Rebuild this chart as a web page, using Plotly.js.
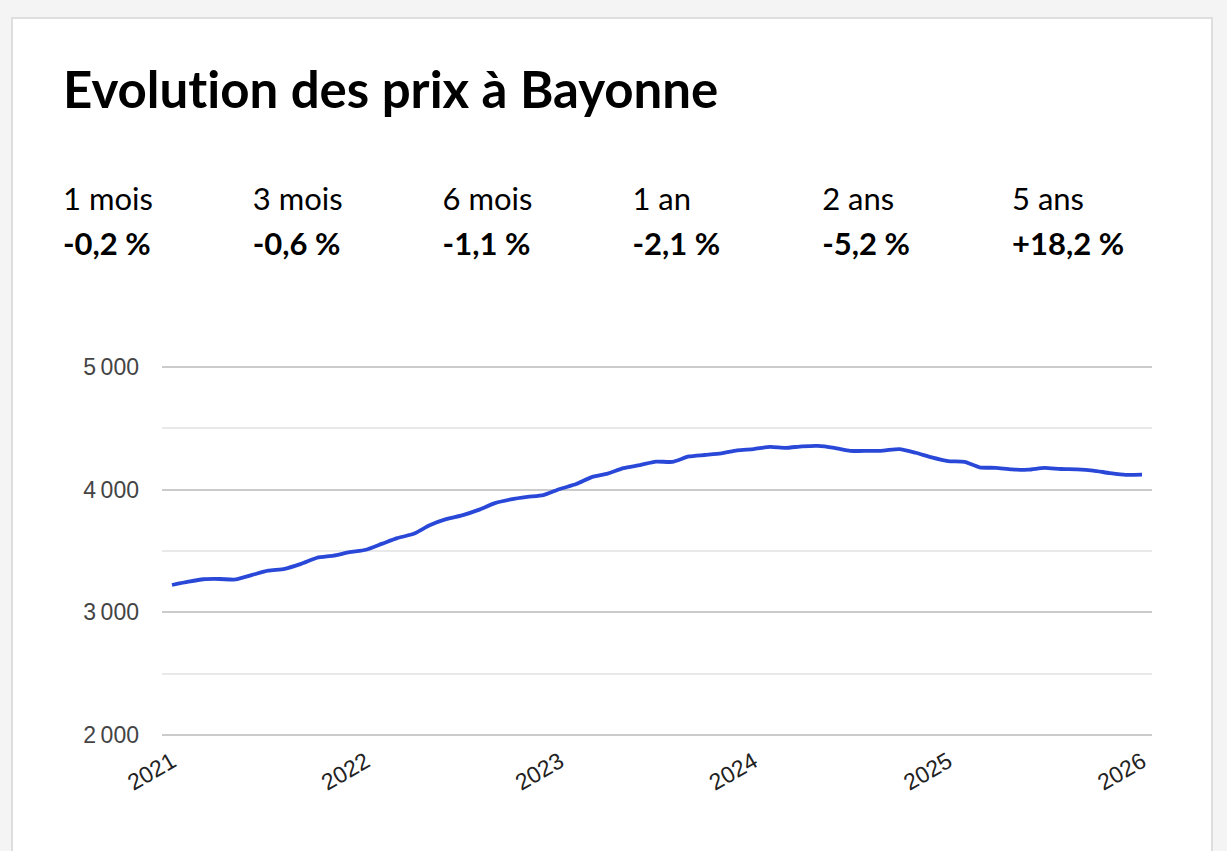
<!DOCTYPE html>
<html>
<head>
<meta charset="utf-8">
<script src="https://cdn.plot.ly/plotly-3.0.1.min.js"></script>
<style>
  html, body { margin: 0; padding: 0; background: #f4f4f4; width: 1227px; height: 851px; overflow: hidden; }
  .card { position: absolute; left: 11px; top: 17px; width: 1198px; height: 900px; background: #fff; border: 2px solid #dedede; }
  .txt { position: absolute; font-family: Lato, "Open Sans", sans-serif; color: #000; line-height: 1; white-space: nowrap; font-variant-ligatures: none; font-feature-settings: "liga" 0; }
  h1.txt { margin: 0; left: 63px; top: 63px; font-size: 51px; font-weight: 700; }
  .lbl { font-size: 31px; font-weight: 400; top: 183px; }
  .val { font-size: 31px; font-weight: 700; top: 228px; }
  #plot { position: absolute; left: 0; top: 0; width: 1227px; height: 851px; }
</style>
</head>
<body>
<div class="card"></div>
<h1 class="txt">Evolution des prix à Bayonne</h1>
<div id="stats"></div>
<div id="plot"></div>
<script>
// periods shown above the chart
const periodLabels = ["1 mois", "3 mois", "6 mois", "1 an", "2 ans", "5 ans"];
const periodChanges = ["-0,2 %", "-0,6 %", "-1,1 %", "-2,1 %", "-5,2 %", "+18,2 %"];

// monthly price per m², Jan 2021 -> Jan 2026
const months = [
  "2021-01-01", "2021-02-01", "2021-03-01", "2021-04-01", "2021-05-01", "2021-06-01",
  "2021-07-01", "2021-08-01", "2021-09-01", "2021-10-01", "2021-11-01", "2021-12-01",
  "2022-01-01", "2022-02-01", "2022-03-01", "2022-04-01", "2022-05-01", "2022-06-01",
  "2022-07-01", "2022-08-01", "2022-09-01", "2022-10-01", "2022-11-01", "2022-12-01",
  "2023-01-01", "2023-02-01", "2023-03-01", "2023-04-01", "2023-05-01", "2023-06-01",
  "2023-07-01", "2023-08-01", "2023-09-01", "2023-10-01", "2023-11-01", "2023-12-01",
  "2024-01-01", "2024-02-01", "2024-03-01", "2024-04-01", "2024-05-01", "2024-06-01",
  "2024-07-01", "2024-08-01", "2024-09-01", "2024-10-01", "2024-11-01", "2024-12-01",
  "2025-01-01", "2025-02-01", "2025-03-01", "2025-04-01", "2025-05-01", "2025-06-01",
  "2025-07-01", "2025-08-01", "2025-09-01", "2025-10-01", "2025-11-01", "2025-12-01",
  "2026-01-01",
];
const prices = [
  3223, 3250, 3270, 3272, 3268, 3305, 3340, 3355, 3395, 3445, 3462, 3490,
  3510, 3560, 3605, 3640, 3710, 3760, 3790, 3835, 3890, 3920, 3940, 3955,
  4005, 4045, 4100, 4130, 4175, 4200, 4228, 4226, 4270, 4282, 4295, 4320,
  4330, 4348, 4340, 4352, 4356, 4340, 4316, 4315, 4318, 4330, 4300, 4262,
  4232, 4226, 4182, 4177, 4165, 4162, 4177, 4168, 4165, 4155, 4135, 4120,
  4122,
];

const yearTicks = ["2021-01-01", "2022-01-01", "2023-01-01", "2024-01-01", "2025-01-01", "2026-01-01"];
const yearLabels = ["2021", "2022", "2023", "2024", "2025", "2026"];

function renderStats() {
  const el = document.getElementById("stats");
  periodLabels.forEach((lbl, i) => {
    const x = 63 + i * 189.8;
    const a = document.createElement("div");
    a.className = "txt lbl";
    a.style.left = x + "px";
    a.textContent = lbl;
    const b = document.createElement("div");
    b.className = "txt val";
    b.style.left = x + "px";
    b.textContent = periodChanges[i];
    el.appendChild(a);
    el.appendChild(b);
  });
}

function renderPlot() {
  const trace = {
    type: "scatter",
    mode: "lines",
    x: months,
    y: prices,
    line: { color: "#2a48d8", width: 3.8, shape: "spline", smoothing: 0.6 },
    hoverinfo: "skip",
  };

  const layout = {
    paper_bgcolor: "rgba(0,0,0,0)",
    plot_bgcolor: "rgba(0,0,0,0)",
    separators: ",\u202f",
    showlegend: false,
    margin: { l: 162, r: 75, t: 365, b: 114, pad: 0 },
    xaxis: {
      type: "date",
      range: ["2020-12-13 05:00", "2026-01-19 19:00"],
      tickvals: yearTicks,
      ticktext: yearLabels,
      tickangle: -30,
      ticklabelstandoff: 6,
      showgrid: false,
      zeroline: false,
      showline: false,
      ticks: "",
      tickfont: { family: "Liberation Sans, Arial, sans-serif", size: 23, color: "#222" },
    },
    yaxis: {
      range: [1985, 5015],
      tick0: 0,
      dtick: 1000,
      tickformat: ",d",
      ticklabelstandoff: 22,
      gridcolor: "#cbcbcb",
      gridwidth: 2,
      zeroline: false,
      showline: false,
      ticks: "",
      tickfont: { family: "Liberation Sans, Arial, sans-serif", size: 23, color: "#444" },
      minor: { dtick: 500, showgrid: true, gridcolor: "#e9e9e9", gridwidth: 2 },
    },
  };

  Plotly.newPlot("plot", [trace], layout, { staticPlot: true, displayModeBar: false });
}

renderStats();
renderPlot();
</script>
</body>
</html>
